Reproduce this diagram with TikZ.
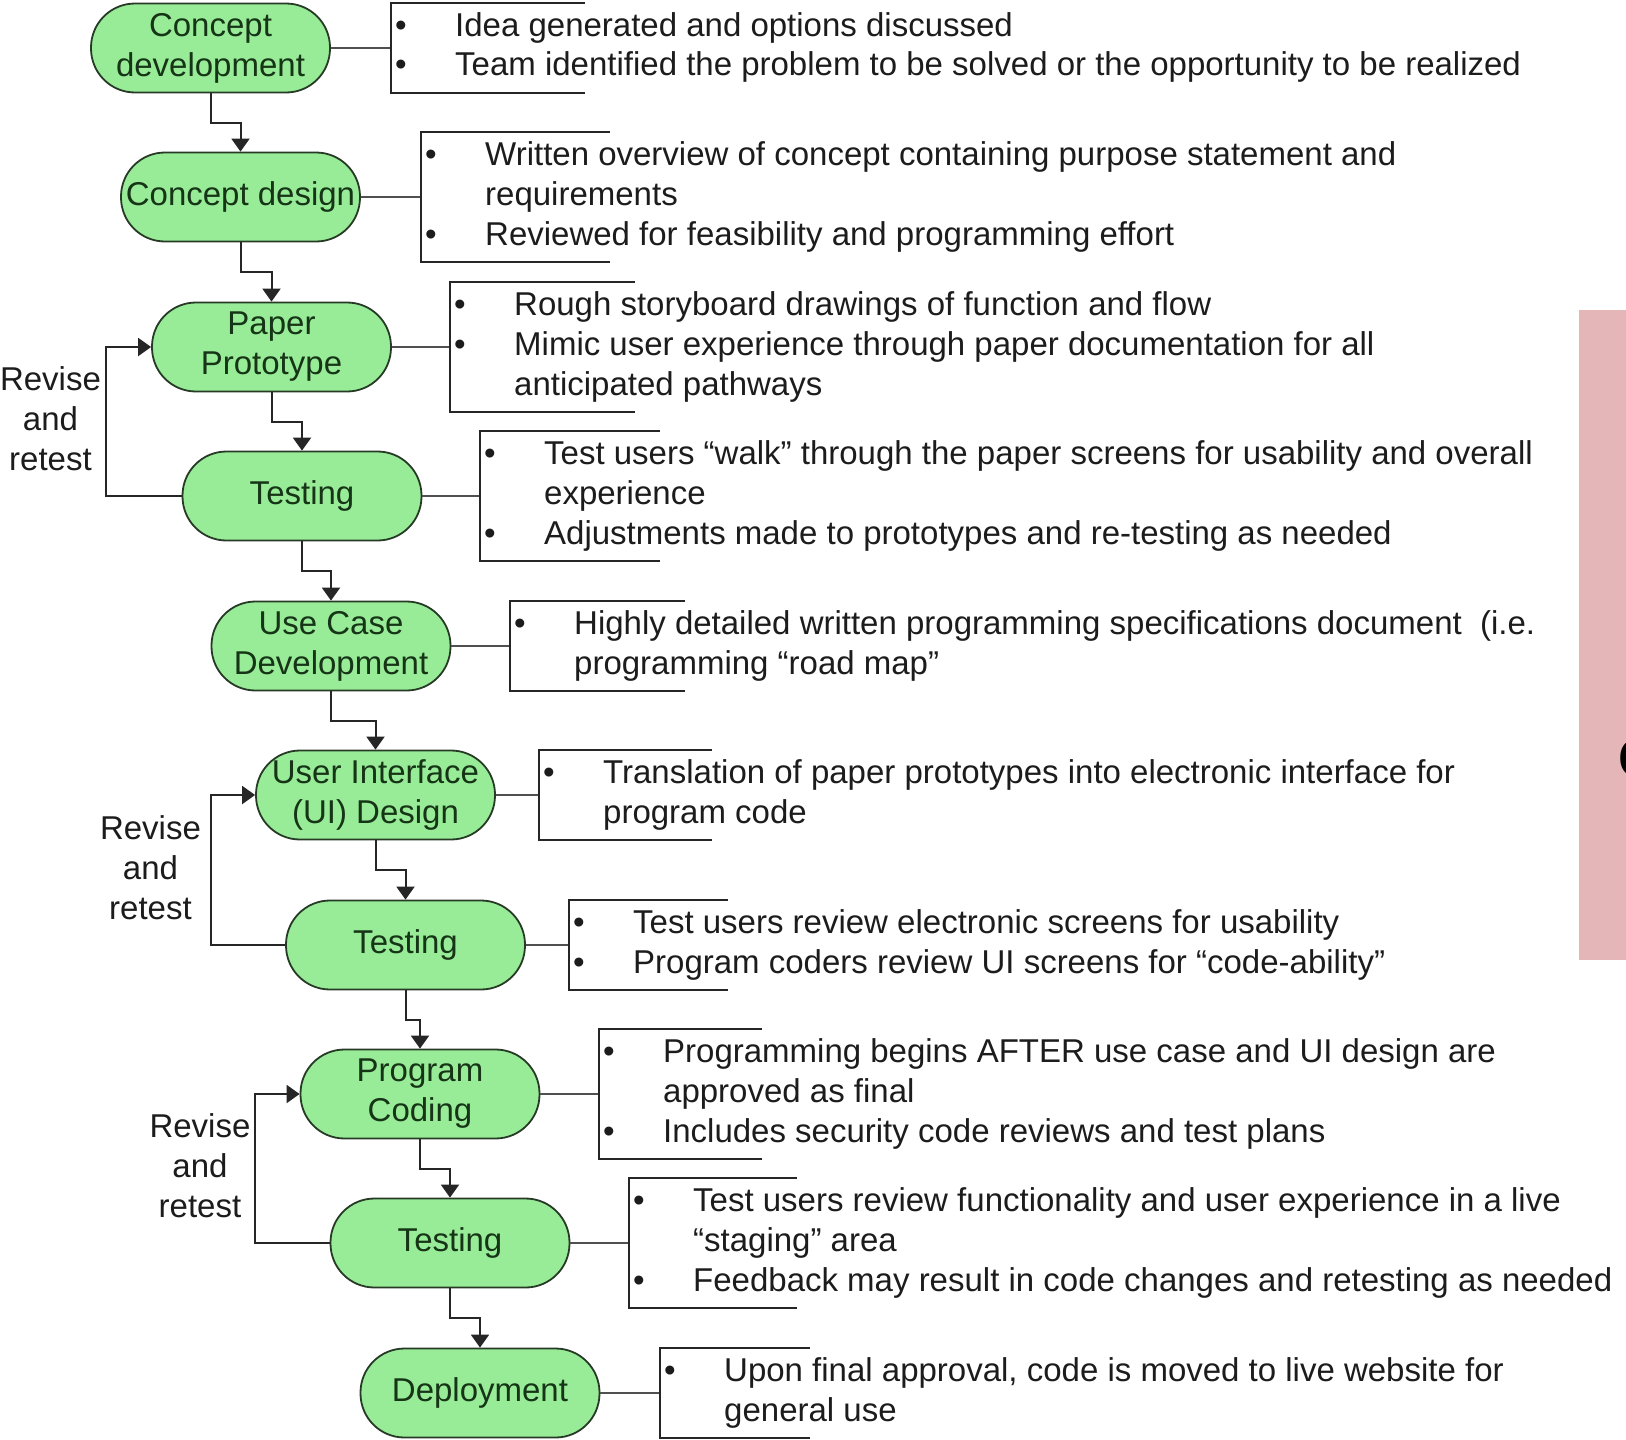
\documentclass[tikz,border=0pt]{standalone}
\usepackage{fontspec}
\setmainfont{Liberation Sans}
\usetikzlibrary{arrows.meta}

\definecolor{stepfill}{RGB}{152,236,152}
\definecolor{stepdraw}{RGB}{38,58,38}
\definecolor{steptext}{RGB}{22,52,22}
\definecolor{linegray}{RGB}{80,80,80}
\definecolor{notetext}{RGB}{28,28,28}
\definecolor{sidebar}{RGB}{229,182,183}

\newcommand\bigtext{\fontsize{33}{40}\selectfont}
\newcommand\bl{\textbullet}

\tikzset{
  stage/.style={draw=stepdraw, line width=1.8pt, fill=stepfill,
    rounded corners=44pt, minimum width=239pt, minimum height=89pt,
    align=center, text=steptext, font=\bigtext, inner sep=0pt},
  flow/.style={draw=black!85, line width=2pt,
    -{Triangle[width=18pt,length=13pt]}},
  tie/.style={draw=linegray, line width=2pt},
  bracket/.style={draw=black!85, line width=2pt},
  note/.style={anchor=west, inner xsep=4pt, inner ysep=5pt,
    text=notetext, font=\bigtext},
  lbl/.style={align=center, text=notetext, font=\bigtext, inner sep=0pt},
}

\begin{document}
\begin{tikzpicture}[x=1pt,y=-1pt]
\useasboundingbox (0,0) rectangle (1626,1440);
\fill[white] (0,0) rectangle (1626,1440);
\clip (0,0) rectangle (1626,1440);

% side panel
\fill[sidebar] (1579,310) rectangle (1626,960);
\node[anchor=west, inner sep=0pt, font=\fontsize{55}{60}\selectfont\bfseries] (cut) at (1618,759) {C};

% process stages
\node[stage] (cdev)   at (210.5,48)   {Concept\\development};
\node[stage] (cdes)   at (240.5,197)  {Concept design};
\node[stage] (pproto) at (271.5,347)  {Paper\\Prototype};
\node[stage] (test1)  at (302,496)    {Testing};
\node[stage] (ucase)  at (331,646)    {Use Case\\Development};
\node[stage] (uidsn)  at (375.5,795)  {User Interface\\(UI) Design};
\node[stage] (test2)  at (405.5,945)  {Testing};
\node[stage] (pcode)  at (420,1094)   {Program\\Coding};
\node[stage] (test3)  at (450,1243)   {Testing};
\node[stage] (deploy) at (480,1393)   {Deployment};

% stage-to-stage flow
\draw[flow] (cdev.south)   -- ++(0,30) -| (cdes.north);
\draw[flow] (cdes.south)   -- ++(0,30) -| (pproto.north);
\draw[flow] (pproto.south) -- ++(0,30) -| (test1.north);
\draw[flow] (test1.south)  -- ++(0,30) -| (ucase.north);
\draw[flow] (ucase.south)  -- ++(0,30) -| (uidsn.north);
\draw[flow] (uidsn.south)  -- ++(0,30) -| (test2.north);
\draw[flow] (test2.south)  -- ++(0,30) -| (pcode.north);
\draw[flow] (pcode.south)  -- ++(0,30) -| (test3.north);
\draw[flow] (test3.south)  -- ++(0,30) -| (deploy.north);

% revise-and-retest loops
\draw[flow] (test1.west) -- ++(-75.5,0) |- (pproto.west);
\draw[flow] (test2.west) -- ++(-74.5,0) |- (uidsn.west);
\draw[flow] (test3.west) -- ++(-74.5,0) |- (pcode.west);
\node[lbl] (rv1) at (50.5,419)  {Revise\\and\\retest};
\node[lbl] (rv2) at (150.5,868) {Revise\\and\\retest};
\node[lbl] (rv3) at (200,1166)  {Revise\\and\\retest};

% annotations
\node[note] (a1) at (391,48) {\begin{tabular}{@{}p{60pt}@{}l@{}}
\bl & Idea generated and options discussed\\
\bl & Team identified the problem to be solved or the opportunity to be realized
\end{tabular}};
\node[note] (a2) at (421,197) {\begin{tabular}{@{}p{60pt}@{}l@{}}
\bl & Written overview of concept containing purpose statement and\\
    & requirements\\
\bl & Reviewed for feasibility and programming effort
\end{tabular}};
\node[note] (a3) at (450,347) {\begin{tabular}{@{}p{60pt}@{}l@{}}
\bl & Rough storyboard drawings of function and flow\\
\bl & Mimic user experience through paper documentation for all\\
    & anticipated pathways
\end{tabular}};
\node[note] (a4) at (480,496) {\begin{tabular}{@{}p{60pt}@{}l@{}}
\bl & Test users “walk” through the paper screens for usability and overall\\
    & experience\\
\bl & Adjustments made to prototypes and re-testing as needed
\end{tabular}};
\node[note] (a5) at (510,646) {\begin{tabular}{@{}p{60pt}@{}l@{}}
\bl & Highly detailed written programming specifications document \ (i.e.\\
    & programming “road map”
\end{tabular}};
\node[note] (a6) at (539,795) {\begin{tabular}{@{}p{60pt}@{}l@{}}
\bl & Translation of paper prototypes into electronic interface for\\
    & program code
\end{tabular}};
\node[note] (a7) at (569,945) {\begin{tabular}{@{}p{60pt}@{}l@{}}
\bl & Test users review electronic screens for usability\\
\bl & Program coders review UI screens for “code-ability”
\end{tabular}};
\node[note] (a8) at (599,1094) {\begin{tabular}{@{}p{60pt}@{}l@{}}
\bl & Programming begins AFTER use case and UI design are\\
    & approved as final\\
\bl & Includes security code reviews and test plans
\end{tabular}};
\node[note] (a9) at (629,1243) {\begin{tabular}{@{}p{60pt}@{}l@{}}
\bl & Test users review functionality and user experience in a live\\
    & “staging” area\\
\bl & Feedback may result in code changes and retesting as needed
\end{tabular}};
\node[note] (a10) at (660,1393) {\begin{tabular}{@{}p{60pt}@{}l@{}}
\bl & Upon final approval, code is moved to live website for\\
    & general use
\end{tabular}};

% brackets and their ties to the stages
\foreach \a/\s/\len in {a1/cdev/194, a2/cdes/189, a3/pproto/185, a4/test1/180,
    a5/ucase/175, a6/uidsn/173, a7/test2/159, a8/pcode/163, a9/test3/168,
    a10/deploy/150} {
  \draw[tie] (\s.east) -- (\a.west);
  \draw[bracket] ([xshift=\len pt]\a.north west) -- (\a.north west)
    -- (\a.south west) -- ++(\len,0);
}
\end{tikzpicture}
\end{document}
